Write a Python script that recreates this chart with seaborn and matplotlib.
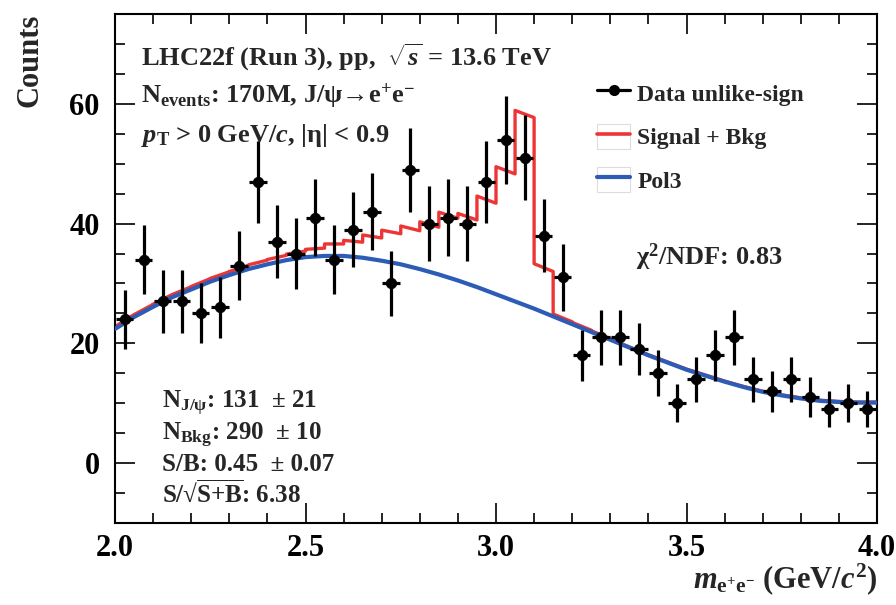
import numpy as np
import pandas as pd
import matplotlib
matplotlib.use("Agg")
import matplotlib.pyplot as plt
import seaborn as sns
from matplotlib.lines import Line2D
from matplotlib.patches import Rectangle
from matplotlib.ticker import MultipleLocator

# ---- data -----------------------------------------------------------------
# 40 invariant-mass bins of 50 MeV/c^2 between 2.0 and 4.0 GeV/c^2
bin_edges = np.round(np.linspace(2.0, 4.0, 41), 3)
bin_centers = 0.5 * (bin_edges[:-1] + bin_edges[1:])

# unlike-sign e+e- pair counts per bin
counts = [24, 34, 27, 27, 25, 26, 33, 47, 37, 35,
          41, 34, 39, 42, 30, 49, 40, 41, 40, 47,
          54, 51, 38, 31, 18, 21, 21, 19, 15, 10,
          14, 18, 21, 14, 12, 14, 11, 9, 10, 9]

# Pol3 background evaluated at the bin edges
bkg_at_edges = [22.4, 24.4, 26.1, 27.7, 29.0, 30.3, 31.4, 32.4, 33.2, 33.9,
                34.4, 34.6, 34.6, 34.3, 33.8, 33.2, 32.4, 31.5, 30.5, 29.4,
                28.2, 27.0, 25.8, 24.5, 23.2, 21.9, 20.6, 19.3, 18.0, 16.8,
                15.6, 14.6, 13.6, 12.7, 11.9, 11.3, 10.8, 10.4, 10.2, 10.1,
                10.1]

# J/psi signal template content per bin (added on top of the background)
signal_per_bin = [0.4, 0.4, 0.45, 0.45, 0.5, 0.55, 0.6, 0.7, 0.8, 1.0,
                  1.3, 2.0, 2.6, 3.8, 5.1, 6.4, 7.9, 10.4, 11.2, 15.2,
                  21.3, 31.9, 7.5, 0.4, 0.3, 0.2, 0.1, 0.1, 0.1, 0.1,
                  0.1, 0.1, 0.1, 0.1, 0.1, 0.1, 0.1, 0.1, 0.1, 0.1]

x_ticks_major = 0.5
y_ticks_major = 20

# ---- style ----------------------------------------------------------------
sns.set_theme(style="ticks")
plt.rcParams["font.family"] = ["Liberation Serif", "DejaVu Serif"]
plt.rcParams["font.weight"] = "bold"
plt.rcParams["mathtext.fontset"] = "custom"
plt.rcParams["mathtext.rm"] = "Liberation Serif:bold"
plt.rcParams["mathtext.bf"] = "Liberation Serif:bold"
plt.rcParams["mathtext.it"] = "Liberation Serif:bold:italic"
plt.rcParams["mathtext.sf"] = "Liberation Serif:bold"

RED = "#ee3535"
BLUE = "#2c5cb6"

W, H = 896, 605
fig, ax = plt.subplots(figsize=(W / 100, H / 100), dpi=100)
fig.subplots_adjust(left=115 / W, right=877 / W, top=1 - 14 / H, bottom=1 - 523 / H)


def P(x, y):
    return (x / W, 1 - y / H)


df = pd.DataFrame({"mass": bin_centers, "counts": counts})
df["err"] = np.sqrt(df["counts"])

# signal + background: per-bin signal stacked on the sloped background
red_x, red_y = [], []
for k in range(len(signal_per_bin)):
    red_x += [bin_edges[k], bin_edges[k + 1]]
    red_y += [bkg_at_edges[k] + signal_per_bin[k], bkg_at_edges[k + 1] + signal_per_bin[k]]

sns.lineplot(x=red_x, y=red_y, sort=False, estimator=None, color=RED,
             lw=2.4, ax=ax, zorder=2)
sns.lineplot(x=bin_edges, y=bkg_at_edges, sort=False, estimator=None, color=BLUE,
             lw=3.0, ax=ax, zorder=3)

ax.errorbar(df["mass"], df["counts"], yerr=df["err"], xerr=0.023, fmt="none",
            ecolor="black", elinewidth=2.3, capsize=0, zorder=4)
sns.scatterplot(data=df, x="mass", y="counts", color="black", edgecolor="black",
                s=56, ax=ax, zorder=5, legend=False)

# ---- axes -----------------------------------------------------------------
ax.set_xlim(2.0, 4.0)
ax.set_ylim(-10, 75)
ax.xaxis.set_major_locator(MultipleLocator(x_ticks_major))
ax.xaxis.set_minor_locator(MultipleLocator(0.1))
ax.yaxis.set_major_locator(MultipleLocator(y_ticks_major))
ax.yaxis.set_minor_locator(MultipleLocator(5))
ax.set_xlabel("")
ax.set_ylabel("")
for sp in ax.spines.values():
    sp.set_visible(True)
    sp.set_linewidth(1.5)
    sp.set_color("black")
ax.tick_params(which="both", direction="in", top=True, right=True,
               colors="black", width=1.2, labelsize=22)
ax.tick_params(which="major", length=14.5)
ax.tick_params(which="minor", length=7.5)
ax.tick_params(axis="y", pad=11)
ax.tick_params(axis="x", pad=8)
for lab in ax.get_xticklabels() + ax.get_yticklabels():
    lab.set_fontweight("bold")

fig.text(*P(877, 588), r"$m_{\mathrm{e}^{+}\mathrm{e}^{-}}$ (GeV/$c^{2}$)",
         ha="right", va="baseline", fontsize=22)
fig.text(*P(30, 14), "Counts", rotation=90, ha="center", va="top", fontsize=22)

# ---- annotations ----------------------------------------------------------
fig.text(*P(141, 66), r"LHC22f (Run 3), pp,  $\sqrt{s}$ = 13.6 TeV",
         fontsize=19, va="baseline")
fig.text(*P(141, 102), r"N$_{\mathrm{events}}$: 170M, J/ψ→e$^{+}$e$^{-}$",
         fontsize=19, va="baseline")
fig.text(*P(141, 142), r"$p_{\mathrm{T}}$ > 0 GeV/$c$, |η| < 0.9",
         fontsize=19, va="baseline")

fig.text(*P(162, 408), r"N$_{\mathrm{J/ψ}}$: 131  ± 21", fontsize=18, va="baseline")
fig.text(*P(162, 440), r"N$_{\mathrm{Bkg}}$: 290  ± 10", fontsize=18, va="baseline")
fig.text(*P(162, 471), "S/B: 0.45  ± 0.07", fontsize=18, va="baseline")
fig.text(*P(162, 502), r"S/√$\overline{\mathrm{S{+}B}}$: 6.38", fontsize=18, va="baseline")

fig.text(*P(636, 265), r"χ$^{2}$/NDF: 0.83", fontsize=19, va="baseline")

# ---- legend ---------------------------------------------------------------
h_data = Line2D([], [], color="black", marker="o", markersize=7, lw=2.3)
h_sig = (Rectangle((0, 0), 1, 1, facecolor="white", edgecolor="#dddddd", lw=0.8),
         Line2D([], [], color=RED, lw=2.6))
h_bkg = (Rectangle((0, 0), 1, 1, facecolor="white", edgecolor="#dddddd", lw=0.8),
         Line2D([], [], color=BLUE, lw=3.0))
ax.legend([h_data, h_sig, h_bkg], ["Data unlike-sign", "Signal + Bkg", "Pol3"],
          loc="upper left", bbox_to_anchor=((597 - 115) / 762, (523 - 80) / 509),
          frameon=False, fontsize=17, handlelength=1.4, handleheight=1.27,
          handletextpad=0.3, labelspacing=0.76, borderpad=0, borderaxespad=0,
          numpoints=1)

fig.savefig("out.png", dpi=100)
